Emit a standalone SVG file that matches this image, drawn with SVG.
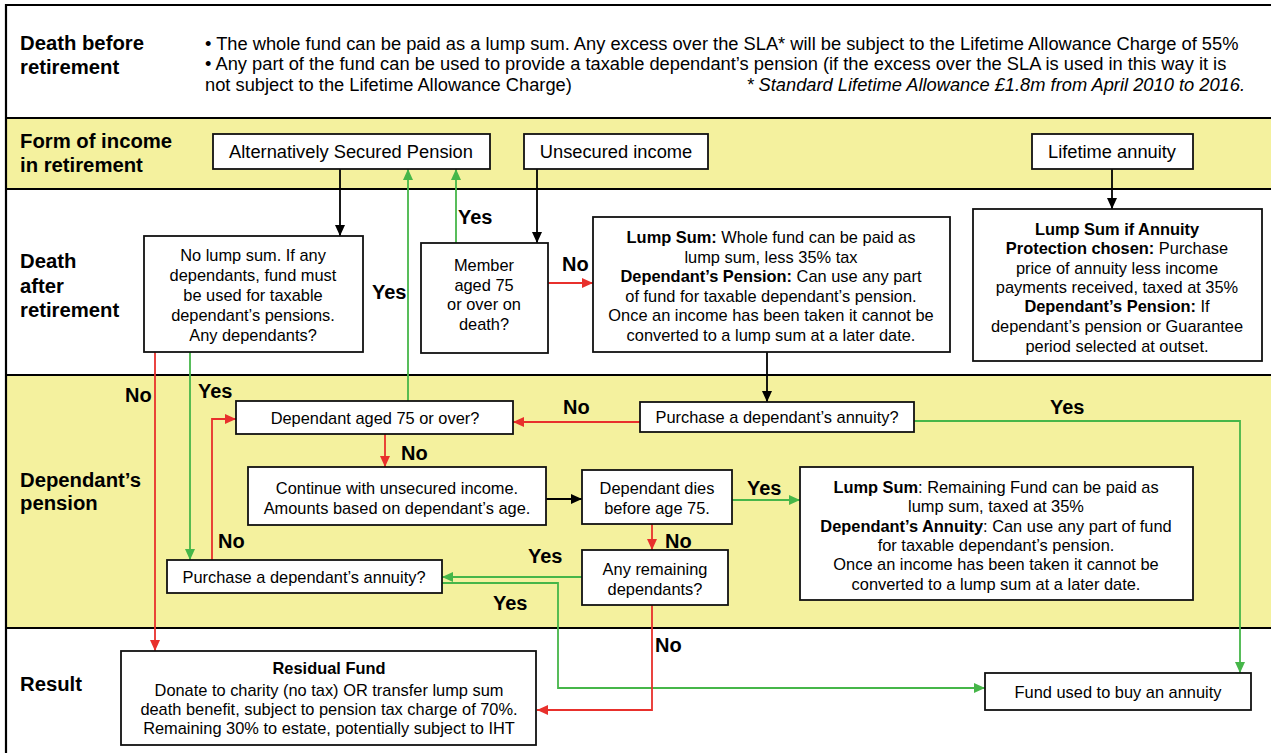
<svg xmlns="http://www.w3.org/2000/svg" width="1271" height="753" viewBox="0 0 1271 753">
<style>
.band{fill:#f4f19e}
.sep{stroke:#000;stroke-width:2.2;fill:none}
.box{fill:#fff;stroke:#111;stroke-width:1.8}
text{font-family:"Liberation Sans",Arial,sans-serif;fill:#000}
.t{font-size:16.4px;text-anchor:middle}
.tl{font-size:18.3px;text-anchor:middle}
.row{font-size:20.3px;font-weight:bold}
.yn{font-size:20px;font-weight:bold}
.top{font-size:18.3px}
.b{font-weight:bold}
.k{stroke:#000;stroke-width:1.8;fill:none}
.r{stroke:#e8302c;stroke-width:1.8;fill:none}
.g{stroke:#46b649;stroke-width:1.8;fill:none}
</style>
<defs>
<marker id="ak" markerUnits="userSpaceOnUse" markerWidth="12" markerHeight="12" refX="11" refY="6" orient="auto"><path d="M0,1 L11,6 L0,11 z" fill="#000"/></marker>
<marker id="ar" markerUnits="userSpaceOnUse" markerWidth="12" markerHeight="12" refX="11" refY="6" orient="auto"><path d="M0,1 L11,6 L0,11 z" fill="#e8302c"/></marker>
<marker id="ag" markerUnits="userSpaceOnUse" markerWidth="12" markerHeight="12" refX="11" refY="6" orient="auto"><path d="M0,1 L11,6 L0,11 z" fill="#46b649"/></marker>
</defs>
<rect x="0" y="0" width="1271" height="753" fill="#fff"/>
<g id="bands">
<rect class="band" x="6" y="118" width="1265" height="71"/>
<rect class="band" x="6" y="375" width="1265" height="253"/>
<path class="sep" d="M6,5 H1271 M6,118 H1271 M6,189 H1271 M6,375 H1271 M6,628 H1271 M6,4 V753"/>
</g>
<g id="row-labels">
<text class="row" x="20" y="50">Death before</text>
<text class="row" x="20" y="74">retirement</text>
<text class="row" x="20" y="148">Form of income</text>
<text class="row" x="20" y="172">in retirement</text>
<text class="row" x="20" y="268">Death</text>
<text class="row" x="20" y="293">after</text>
<text class="row" x="20" y="317">retirement</text>
<text class="row" x="20" y="487">Dependant’s</text>
<text class="row" x="20" y="510">pension</text>
<text class="row" x="20" y="691">Result</text>
</g>
<g id="death-before-text">
<text class="top" x="205" y="50">• The whole fund can be paid as a lump sum. Any excess over the SLA* will be subject to the Lifetime Allowance Charge of 55%</text>
<text class="top" x="205" y="70">• Any part of the fund can be used to provide a taxable dependant’s pension (if the excess over the SLA is used in this way it is</text>
<text class="top" x="205" y="91">not subject to the Lifetime Allowance Charge)</text>
<text class="top" x="1245" y="91" text-anchor="end" font-style="italic">* Standard Lifetime Allowance £1.8m from April 2010 to 2016.</text>
</g>
<g id="connectors">
<path class="k" d="M340,169 V236" marker-end="url(#ak)"/>
<path class="k" d="M537,169 V243" marker-end="url(#ak)"/>
<path class="k" d="M1112,169 V209" marker-end="url(#ak)"/>
<path class="k" d="M767,352 V402" marker-end="url(#ak)"/>
<path class="k" d="M546,499 H582" marker-end="url(#ak)"/>
<path class="g" d="M456,243 V169" marker-end="url(#ag)"/>
<path class="g" d="M408,401 V169" marker-end="url(#ag)"/>
<path class="g" d="M190,352 V560" marker-end="url(#ag)"/>
<path class="r" d="M155,352 V651" marker-end="url(#ar)"/>
<path class="r" d="M548,283 H593" marker-end="url(#ar)"/>
<path class="r" d="M640,422 H513" marker-end="url(#ar)"/>
<path class="g" d="M914,421 H1240 V673" marker-end="url(#ag)"/>
<path class="r" d="M385,434 V467" marker-end="url(#ar)"/>
<path class="g" d="M732,500 H800" marker-end="url(#ag)"/>
<path class="r" d="M652,524 V550" marker-end="url(#ar)"/>
<path class="g" d="M582,577 H442" marker-end="url(#ag)"/>
<path class="r" d="M212,560 V419 H236" marker-end="url(#ar)"/>
<path class="g" d="M442,583 H558 V688 H985" marker-end="url(#ag)"/>
<path class="r" d="M652,605 V710 H537" marker-end="url(#ar)"/>
</g>
<g id="connector-labels">
<text class="yn" x="458" y="224">Yes</text>
<text class="yn" x="372" y="299">Yes</text>
<text class="yn" x="562" y="271">No</text>
<text class="yn" x="125" y="402">No</text>
<text class="yn" x="198" y="398">Yes</text>
<text class="yn" x="563" y="414">No</text>
<text class="yn" x="1050" y="414">Yes</text>
<text class="yn" x="401" y="460">No</text>
<text class="yn" x="747" y="495">Yes</text>
<text class="yn" x="665" y="548">No</text>
<text class="yn" x="218" y="548">No</text>
<text class="yn" x="528" y="563">Yes</text>
<text class="yn" x="493" y="610">Yes</text>
<text class="yn" x="655" y="652">No</text>
</g>
<g id="asp">
<rect class="box" x="213" y="134" width="277" height="35"/>
<text class="tl" x="351" y="158">Alternatively Secured Pension</text>
</g>
<g id="unsecured">
<rect class="box" x="524" y="134" width="184" height="35"/>
<text class="tl" x="616" y="158">Unsecured income</text>
</g>
<g id="lifetime">
<rect class="box" x="1032" y="134" width="161" height="35"/>
<text class="tl" x="1112" y="158">Lifetime annuity</text>
</g>
<g id="no-lump-sum">
<rect class="box" x="144" y="236" width="219" height="116"/>
<text class="t" x="253" y="261">No lump sum. If any</text>
<text class="t" x="253" y="281">dependants, fund must</text>
<text class="t" x="253" y="301">be used for taxable</text>
<text class="t" x="253" y="321">dependant’s pensions.</text>
<text class="t" x="253" y="341">Any dependants?</text>
</g>
<g id="member-75">
<rect class="box" x="421" y="243" width="127" height="110"/>
<text class="t" x="484" y="271">Member</text>
<text class="t" x="484" y="291">aged 75</text>
<text class="t" x="484" y="310">or over on</text>
<text class="t" x="484" y="330">death?</text>
</g>
<g id="lump-sum-member">
<rect class="box" x="593" y="217" width="357" height="135"/>
<text class="t" x="771" y="243"><tspan class="b">Lump Sum:</tspan> Whole fund can be paid as</text>
<text class="t" x="771" y="263">lump sum, less 35% tax</text>
<text class="t" x="771" y="282"><tspan class="b">Dependant’s Pension:</tspan> Can use any part</text>
<text class="t" x="771" y="302">of fund for taxable dependant’s pension.</text>
<text class="t" x="771" y="321">Once an income has been taken it cannot be</text>
<text class="t" x="771" y="341">converted to a lump sum at a later date.</text>
</g>
<g id="annuity-protection">
<rect class="box" x="973" y="209" width="289" height="152"/>
<text class="t" x="1117" y="235" font-weight="bold">Lump Sum if Annuity</text>
<text class="t" x="1117" y="254"><tspan class="b">Protection chosen:</tspan> Purchase</text>
<text class="t" x="1117" y="274">price of annuity less income</text>
<text class="t" x="1117" y="293">payments received, taxed at 35%</text>
<text class="t" x="1117" y="312"><tspan class="b">Dependant’s Pension:</tspan> If</text>
<text class="t" x="1117" y="332">dependant’s pension or Guarantee</text>
<text class="t" x="1117" y="352">period selected at outset.</text>
</g>
<g id="dependant-75">
<rect class="box" x="236" y="401" width="277" height="33"/>
<text class="t" x="375" y="424">Dependant aged 75 or over?</text>
</g>
<g id="purchase-right">
<rect class="box" x="640" y="402" width="274" height="30"/>
<text class="t" x="777" y="423">Purchase a dependant’s annuity?</text>
</g>
<g id="continue">
<rect class="box" x="248" y="467" width="298" height="58"/>
<text class="t" x="397" y="494">Continue with unsecured income.</text>
<text class="t" x="397" y="514">Amounts based on dependant’s age.</text>
</g>
<g id="dies-before">
<rect class="box" x="582" y="470" width="150" height="54"/>
<text class="t" x="657" y="494">Dependant dies</text>
<text class="t" x="657" y="514">before age 75.</text>
</g>
<g id="lump-sum-dependant">
<rect class="box" x="800" y="467" width="393" height="133"/>
<text class="t" x="996" y="493"><tspan class="b">Lump Sum</tspan>: Remaining Fund can be paid as</text>
<text class="t" x="996" y="512">lump sum, taxed at 35%</text>
<text class="t" x="996" y="532"><tspan class="b">Dependant’s Annuity</tspan>: Can use any part of fund</text>
<text class="t" x="996" y="551">for taxable dependant’s pension.</text>
<text class="t" x="996" y="570">Once an income has been taken it cannot be</text>
<text class="t" x="996" y="590">converted to a lump sum at a later date.</text>
</g>
<g id="any-remaining">
<rect class="box" x="582" y="550" width="146" height="55"/>
<text class="t" x="655" y="575">Any remaining</text>
<text class="t" x="655" y="595">dependants?</text>
</g>
<g id="purchase-left">
<rect class="box" x="167" y="560" width="275" height="33"/>
<text class="t" x="304" y="583">Purchase a dependant’s annuity?</text>
</g>
<g id="residual">
<rect class="box" x="121" y="651" width="415" height="94"/>
<text class="t" x="329" y="674" font-weight="bold">Residual Fund</text>
<text class="t" x="329" y="696">Donate to charity (no tax) OR transfer lump sum</text>
<text class="t" x="329" y="715">death benefit, subject to pension tax charge of 70%.</text>
<text class="t" x="329" y="734">Remaining 30% to estate, potentially subject to IHT</text>
</g>
<g id="fund-annuity">
<rect class="box" x="985" y="673" width="266" height="37"/>
<text class="t" x="1118" y="698">Fund used to buy an annuity</text>
</g>
</svg>
